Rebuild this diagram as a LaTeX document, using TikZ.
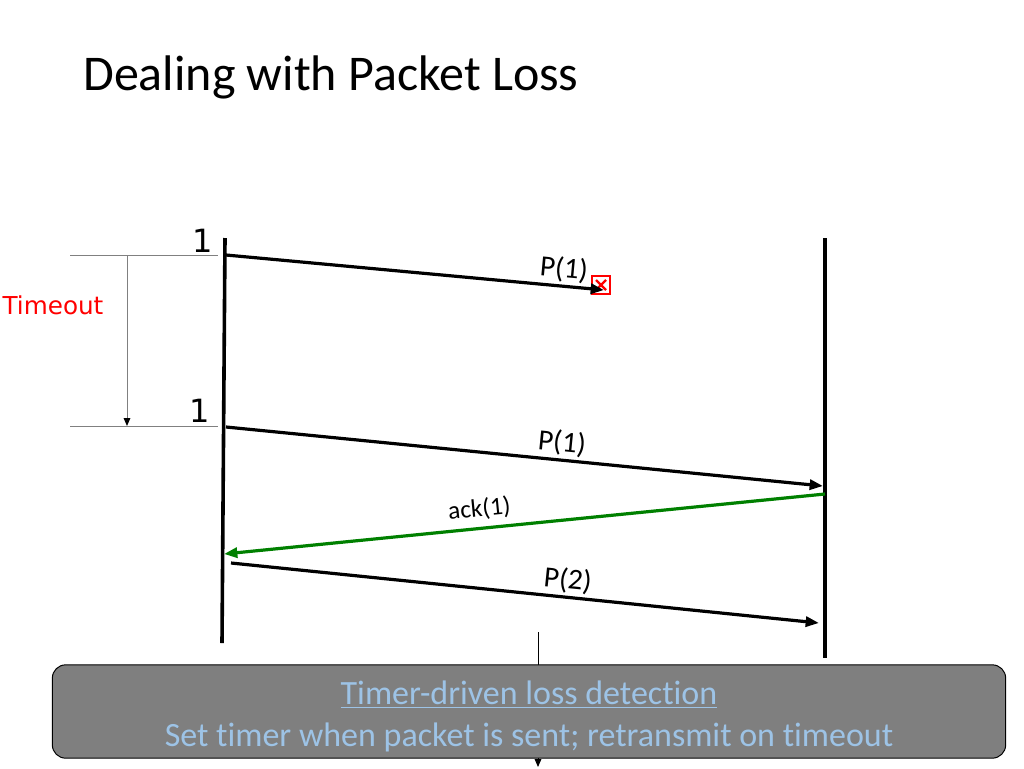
\documentclass[tikz,border=0pt]{standalone}
\usepackage{fontspec}
\setmainfont{Carlito}[RawFeature=-liga]
\newfontfamily\digitfont{DejaVu Sans}
\usetikzlibrary{arrows.meta}
\definecolor{boxgray}{RGB}{127,127,127}
\definecolor{notetext}{RGB}{157,195,230}
\definecolor{ackgreen}{RGB}{0,128,0}
\definecolor{timergray}{RGB}{128,128,128}

\begin{document}
\begin{tikzpicture}[x=0.75pt,y=-0.75pt,
        msg/.style={line width=2.4pt,-{Triangle[length=10pt,width=7.5pt]}},
        lbl/.style={font=\fontsize{22}{26}\selectfont, sloped, above, inner sep=2pt},
        timeline/.style={line width=2.7pt},
        seqno/.style={font=\digitfont\fontsize{24}{28}\selectfont, inner sep=0pt}]
        \useasboundingbox (0,0) rectangle (1024,768);

        % Заголовок
        \node[anchor=base west, inner sep=0pt, font=\fontsize{37.5}{44}\selectfont] (title) at (83,90) {Dealing with Packet Loss};

        % Линии времени
        \coordinate (Ltop) at (225,238);
        \coordinate (Lbot) at (222,643);
        \coordinate (Rtop) at (825,238);
        \coordinate (Rbot) at (825,658);
        \draw[timeline] (Ltop) -- (Lbot);
        \draw[timeline] (Rtop) -- (Rbot);

        % Таймер
        \coordinate (T1a) at (70,255);
        \coordinate (T1b) at (218,255);
        \coordinate (T2a) at (70,426);
        \coordinate (T2b) at (218,426);
        \coordinate (Ttop) at (127,255);
        \coordinate (Tbot) at (127,426);
        \draw[timergray, line width=0.75pt] (T1a) -- (T1b);
        \draw[timergray, line width=0.75pt] (T2a) -- (T2b);
        \draw[timergray, line width=0.75pt, -{Triangle[black,length=6pt,width=5pt]}] (Ttop) -- (Tbot);
        \node[font=\digitfont\fontsize{18.5}{22}\selectfont, text=red] (timeout) at (53,305) {Timeout};
        \node[seqno] (n1) at (203,241) {1};
        \node[seqno] (n2) at (200,411) {1};

        % Потерянный пакет
        \node[draw=red, line width=1.4pt, minimum size=13pt, inner sep=0pt] (lost) at (601,285) {};
        \draw[red, line width=1.8pt] ([shift={(-5,-5)}]lost.center) -- ([shift={(5,5)}]lost.center);
        \draw[red, line width=1.8pt] ([shift={(-5,5)}]lost.center) -- ([shift={(5,-5)}]lost.center);

        % Сообщения
        \coordinate (s1) at (226,255);
        \coordinate (e1) at (604,290);
        \coordinate (s2) at (226,427);
        \coordinate (e2) at (823,486);
        \coordinate (s3) at (825,494);
        \coordinate (e3) at (224,554);
        \coordinate (s4) at (231,563);
        \coordinate (e4) at (819,623);
        \draw[msg] (s1) -- (e1) node[lbl, pos=0.89] {P(1)};
        \draw[msg] (s2) -- (e2) node[lbl, pos=0.56] {P(1)};
        \draw[msg, ackgreen] (s3) -- (e3) node[lbl, pos=0.572, black, inner sep=5pt, font=\fontsize{19}{23}\selectfont] {ack(1)};
        \draw[msg] (s4) -- (e4) node[lbl, pos=0.57] {P(2)};

        % Вывод
        \coordinate (dtop) at (538,632);
        \coordinate (dbot) at (538,767);
        \draw[line width=0.75pt, -{Triangle[length=6pt,width=5pt]}] (dtop) -- (dbot);
        \node[draw=black, line width=0.75pt, fill=boxgray, rounded corners=10pt,
              minimum width=715pt, minimum height=70pt] (note) at (529,711.5) {};
        \node[text=notetext, align=center, font=\fontsize{25.5}{31}\selectfont] (notetext)
              at ([shift={(0,5)}]note.center)
              {\underline{Timer-driven loss detection}\\[0pt]Set timer when packet is sent; retransmit on timeout};
    \end{tikzpicture}
\end{document}
